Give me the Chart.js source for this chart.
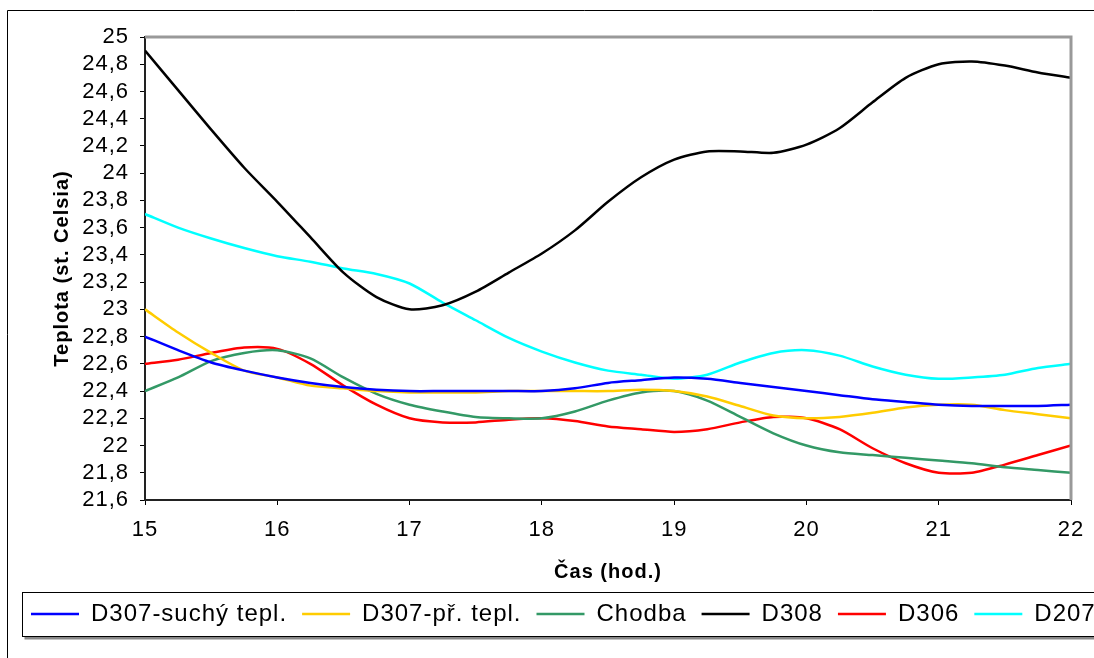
<!DOCTYPE html>
<html>
<head>
<meta charset="utf-8">
<script src="https://cdn.jsdelivr.net/npm/chart.js@4.4.1/dist/chart.umd.min.js"></script>
<style>
  html, body { margin: 0; padding: 0; overflow: hidden; background: #fff; }
  #wrap { width: 1160px; height: 658px; }
</style>
</head>
<body>
<div id="wrap"><canvas id="c" width="1160" height="658"></canvas></div>
<script>
// Measurement times (hours), every 15 minutes
const hours = [15, 15.25, 15.5, 15.75, 16, 16.25, 16.5, 16.75, 17, 17.25, 17.5, 17.75, 18, 18.25, 18.5, 18.75,
               19, 19.25, 19.5, 19.75, 20, 20.25, 20.5, 20.75, 21, 21.25, 21.5, 21.75, 22];

// Temperatures in °C
const d307Suchy = [22.8, 22.7, 22.61, 22.55, 22.5, 22.46, 22.43, 22.41, 22.4, 22.4, 22.4, 22.4, 22.4, 22.42, 22.46, 22.48,
                   22.5, 22.49, 22.46, 22.43, 22.4, 22.37, 22.34, 22.32, 22.3, 22.29, 22.29, 22.29, 22.3];
const d307Pr    = [23.0, 22.83, 22.68, 22.55, 22.5, 22.44, 22.42, 22.4, 22.39, 22.39, 22.39, 22.4, 22.4, 22.4, 22.4, 22.41,
                   22.4, 22.36, 22.29, 22.22, 22.2, 22.21, 22.24, 22.28, 22.3, 22.3, 22.26, 22.23, 22.2];
const chodba    = [22.4, 22.5, 22.62, 22.68, 22.7, 22.64, 22.5, 22.38, 22.3, 22.25, 22.21, 22.2, 22.2, 22.25, 22.33, 22.39,
                   22.4, 22.33, 22.21, 22.09, 22.0, 21.95, 21.93, 21.91, 21.89, 21.87, 21.84, 21.82, 21.8];
const d308      = [24.9, 24.61, 24.32, 24.04, 23.79, 23.53, 23.27, 23.09, 23.0, 23.03, 23.13, 23.27, 23.41, 23.58, 23.79, 23.97,
                   24.1, 24.16, 24.16, 24.15, 24.21, 24.33, 24.52, 24.7, 24.8, 24.82, 24.79, 24.74, 24.7];
const d306      = [22.6, 22.63, 22.68, 22.72, 22.71, 22.6, 22.44, 22.3, 22.2, 22.17, 22.17, 22.19, 22.2, 22.18, 22.14, 22.12,
                   22.1, 22.12, 22.17, 22.21, 22.2, 22.12, 21.98, 21.87, 21.8, 21.8, 21.86, 21.93, 22.0];
const d207      = [23.7, 23.6, 23.52, 23.45, 23.39, 23.35, 23.3, 23.26, 23.19, 23.05, 22.92, 22.79, 22.69, 22.61, 22.55, 22.52,
                   22.49, 22.52, 22.61, 22.68, 22.7, 22.66, 22.58, 22.52, 22.49, 22.5, 22.52, 22.57, 22.6];

const seriesNames  = ['D307-suchý tepl.', 'D307-př. tepl.', 'Chodba', 'D308', 'D306', 'D207'];
const seriesValues = [d307Suchy, d307Pr, chodba, d308, d306, d207];
const seriesColors = ['#0000FF', '#FFCC00', '#339966', '#000000', '#FF0000', '#00FFFF'];

const xAxisTitle = 'Čas (hod.)';
const yAxisTitle = 'Teplota (st. Celsia)';

const FONT = "'Liberation Sans', Arial, sans-serif";

const datasets = seriesNames.map((name, i) => ({
  label: name,
  data: hours.map((h, k) => ({ x: h, y: seriesValues[i][k] })),
  borderColor: seriesColors[i],
  backgroundColor: seriesColors[i],
  borderWidth: 2.5,
  pointRadius: 0,
  pointHoverRadius: 0,
  tension: 0.25,
  fill: false
}));

// Slightly wider text spacing for all labels
const spacingPlugin = {
  id: 'spacing',
  beforeUpdate(chart) { chart.ctx.letterSpacing = '1px'; },
  beforeDraw(chart) { chart.ctx.letterSpacing = '1px'; }
};

// Frame of the whole chart, the plot area and the legend box
const framePlugin = {
  id: 'frames',
  afterDatasetsDraw(chart) {
    const { ctx, chartArea: a } = chart;
    ctx.save();
    ctx.strokeStyle = '#999';
    ctx.lineWidth = 3;
    ctx.beginPath();
    ctx.moveTo(a.left, a.top);
    ctx.lineTo(a.right, a.top);
    ctx.lineTo(a.right, a.bottom);
    ctx.stroke();
    ctx.restore();
  },
  afterDraw(chart) {
    const { ctx } = chart;
    const lg = chart.legend;
    ctx.save();
    // outer border
    ctx.strokeStyle = '#000';
    ctx.lineWidth = 1;
    ctx.beginPath();
    ctx.moveTo(7.5, chart.height + 5);
    ctx.lineTo(7.5, 10.5);
    ctx.lineTo(chart.width + 5, 10.5);
    ctx.stroke();
    // legend box with shadow
    const lx = lg.left + 6.5, ly = lg.top + 5.5, lb = lg.bottom + 0.5;
    ctx.strokeStyle = '#888';
    ctx.lineWidth = 3;
    ctx.beginPath();
    ctx.moveTo(lx + 2, lb + 1.5);
    ctx.lineTo(chart.width + 5, lb + 1.5);
    ctx.stroke();
    ctx.strokeStyle = '#000';
    ctx.lineWidth = 1;
    ctx.strokeRect(lx, ly, chart.width + 20, lb - ly);
    ctx.restore();
  }
};

new Chart(document.getElementById('c'), {
  type: 'line',
  data: { datasets },
  plugins: [spacingPlugin, framePlugin],
  options: {
    responsive: false,
    animation: false,
    events: [],
    layout: { padding: { left: 16, right: 0, top: 37, bottom: 22 } },
    plugins: {
      tooltip: { enabled: false },
      legend: {
        position: 'bottom',
        align: 'start',
        labels: {
          usePointStyle: true,
          pointStyle: 'line',
          pointStyleWidth: 48,
          boxWidth: 48,
          padding: 15,
          color: '#000',
          font: { family: FONT, size: 24 }
        }
      }
    },
    scales: {
      x: {
        type: 'linear',
        min: 15,
        max: 22,
        afterFit(s) { s.height = 87; },
        ticks: {
          stepSize: 1,
          autoSkip: false,
          padding: 12,
          color: '#000',
          maxRotation: 0,
          font: { family: FONT, size: 22 }
        },
        grid: { display: true, drawOnChartArea: false, drawTicks: true, tickLength: 5, color: '#000' },
        border: { display: true, color: '#222', width: 2 },
        title: {
          display: true,
          text: xAxisTitle,
          color: '#000',
          padding: { top: 0, bottom: 3 },
          font: { family: FONT, size: 20, weight: 'bold' }
        }
      },
      y: {
        min: 21.6,
        max: 25,
        afterFit(s) { s.width = 129; },
        ticks: {
          stepSize: 0.2,
          autoSkip: false,
          padding: 11,
          color: '#000',
          font: { family: FONT, size: 22 },
          callback: v => String(Number(v.toFixed(1))).replace('.', ',')
        },
        grid: { display: true, drawOnChartArea: false, drawTicks: true, tickLength: 5, color: '#000' },
        border: { display: true, color: '#222', width: 2 },
        title: {
          display: true,
          text: yAxisTitle,
          color: '#000',
          padding: { top: 34, bottom: 0 },
          font: { family: FONT, size: 20, weight: 'bold' }
        }
      },
      yRight: {
        position: 'right',
        display: true,
        afterFit(s) { s.width = 89; },
        ticks: { display: false },
        grid: { display: false },
        border: { display: false }
      }
    }
  }
});
</script>
</body>
</html>
